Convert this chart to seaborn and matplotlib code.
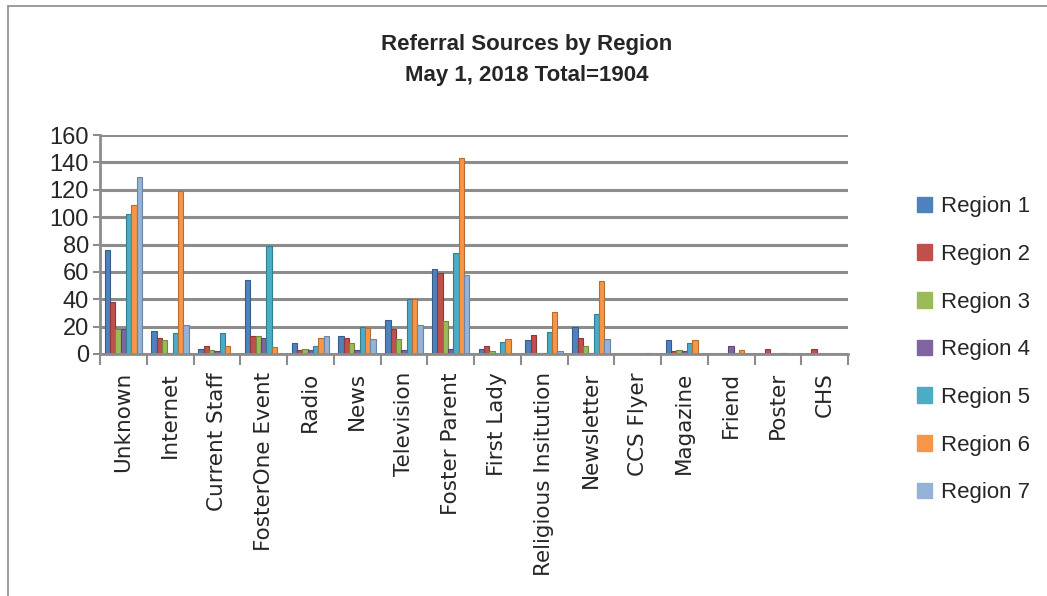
import numpy as np
import pandas as pd
import matplotlib
matplotlib.use("Agg")
import matplotlib.pyplot as plt
import matplotlib.patches as mpatches
from matplotlib.lines import Line2D
import seaborn as sns

categories = ["Unknown", "Internet", "Current Staff", "FosterOne Event", "Radio", "News",
              "Television", "Foster Parent", "First Lady", "Religious Insitution",
              "Newsletter", "CCS Flyer", "Magazine", "Friend", "Poster", "CHS"]
regions = ["Region 1", "Region 2", "Region 3", "Region 4", "Region 5", "Region 6", "Region 7"]

region1 = [76, 17, 4, 54, 8, 13, 25, 62, 4, 10, 20, 0, 10, 0, 0, 0]
region2 = [38, 12, 6, 13, 3, 12, 18, 59, 6, 14, 12, 0, 2, 0, 4, 4]
region3 = [18, 10, 3, 13, 4, 8, 11, 24, 2, 1, 6, 0, 3, 0, 0, 0]
region4 = [18, 1, 2, 12, 3, 3, 3, 4, 0, 1, 1, 0, 2, 6, 0, 0]
region5 = [102, 15, 15, 79, 6, 20, 40, 74, 9, 16, 29, 0, 8, 1, 1, 0]
region6 = [109, 119, 6, 5, 12, 19, 40, 143, 11, 31, 53, 1, 10, 3, 0, 0]
region7 = [129, 21, 0, 0, 13, 11, 21, 58, 0, 2, 11, 0, 0, 0, 0, 0]

colors = ["#4F81BD", "#C0504D", "#9BBB59", "#8064A2", "#4BACC6", "#F79646", "#95B3D7"]
edges = ["#385D8A", "#8C3836", "#71893F", "#5C4776", "#357D91", "#B66D31", "#6D83A3"]

series = [region1, region2, region3, region4, region5, region6, region7]
rows = []
for reg, vals in zip(regions, series):
    for cat, v in zip(categories, vals):
        rows.append({"Source": cat, "Region": reg, "Count": v})
df = pd.DataFrame(rows)

sns.set_theme(style="white")
plt.rcParams['font.family'] = ['DejaVu Sans']

fig = plt.figure(figsize=(10.47, 5.96), dpi=100)
ax = fig.add_axes([100/1047, 1-354/596, 748/1047, 219/596])

sns.barplot(data=df, x="Source", y="Count", hue="Region", order=categories,
            hue_order=regions, palette=colors, ax=ax, width=0.8, legend=False,
            linewidth=0.8, saturation=1)
for cont, ec in zip(ax.containers, edges):
    for bar in cont:
        bar.set_edgecolor(ec)

ax.set_ylim(0, 160)
ax.set_yticks(np.arange(0, 161, 20))
ax.yaxis.grid(True, color="#8C8C8C", linewidth=2.2)
ax.set_axisbelow(True)
ax.set_xlim(-0.5, len(categories) - 0.5)
ax.set_xlabel("")
ax.set_ylabel("")
for s in ["top", "right"]:
    ax.spines[s].set_visible(False)
for s in ["left", "bottom"]:
    ax.spines[s].set_color("#8C8C8C")
    ax.spines[s].set_linewidth(2)

ax.tick_params(axis="y", labelsize=17, length=5, color="#8C8C8C", width=1.5, pad=3, left=True)
ax.set_xticks(range(len(categories)))
ax.set_xticklabels(categories, rotation=90, fontsize=15.5, family="DejaVu Sans")
ax.tick_params(axis="x", length=0, pad=13)
ax.set_xticks(np.arange(-0.5, len(categories), 1), minor=True)
ax.tick_params(axis="x", which="minor", length=8, color="#8C8C8C", width=1.5, bottom=True)
for lbl in ax.get_yticklabels():
    lbl.set_family("Liberation Sans")

fig.text(0.503, 0.925, "Referral Sources by Region", ha="center", va="center",
         fontsize=16, fontweight="bold", family="Liberation Sans")
fig.text(0.503, 0.873, "May 1, 2018 Total=1904", ha="center", va="center",
         fontsize=16, fontweight="bold", family="Liberation Sans")

handles = [mpatches.Patch(facecolor=c, edgecolor=c) for c in colors]
leg = fig.legend(handles, regions, loc="center left", bbox_to_anchor=(0.8565, 0.413),
                 frameon=False, labelspacing=1.2, handlelength=0.7,
                 handleheight=0.7, handletextpad=0.4,
                 prop={"family": "Liberation Sans", "size": 16})

fig.add_artist(Line2D([8/1047, 8/1047], [0, 1 - 6/596], transform=fig.transFigure,
                      color="#8C8C8C", linewidth=1.2))
fig.add_artist(Line2D([8/1047, 1], [1 - 6/596, 1 - 6/596], transform=fig.transFigure,
                      color="#8C8C8C", linewidth=1.2))

fig.savefig("out.png", dpi=100)
